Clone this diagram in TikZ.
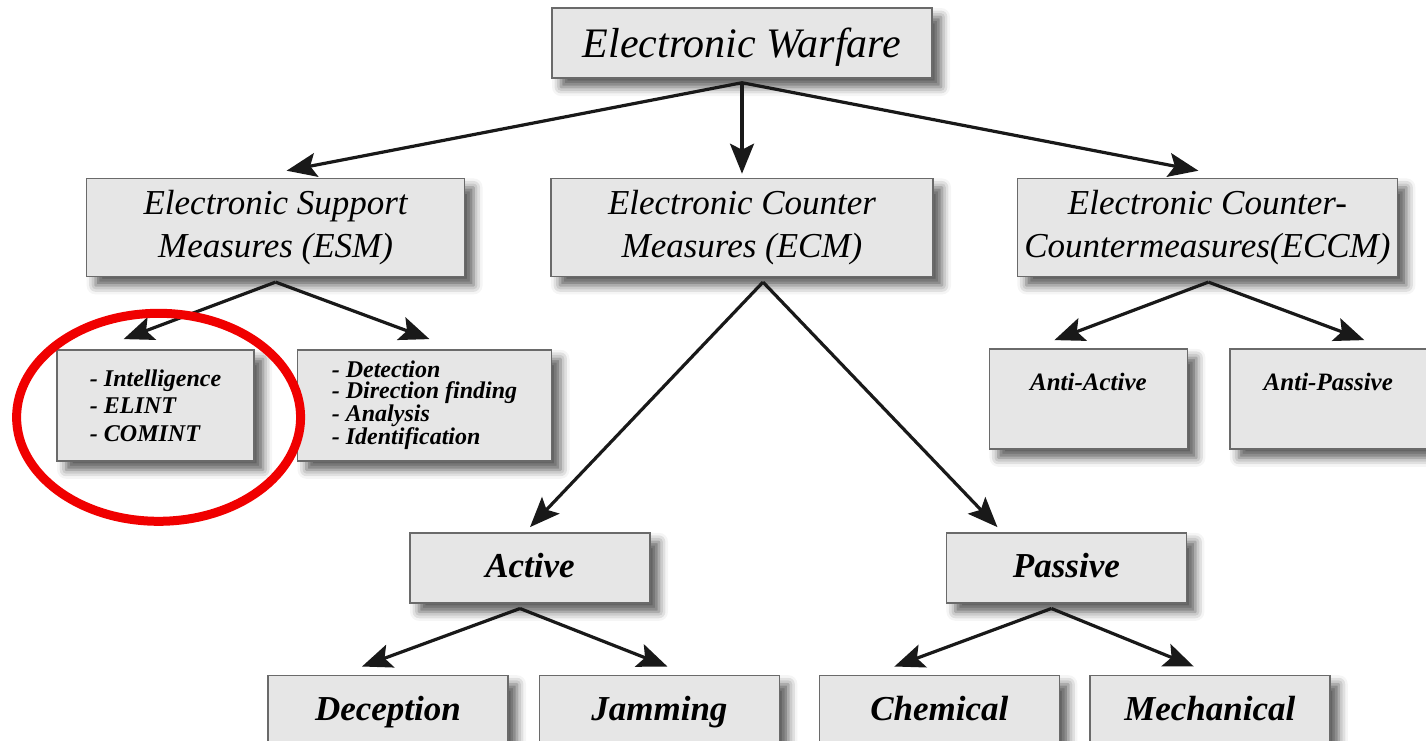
\documentclass[tikz,border=0pt]{standalone}
\usepackage{fontspec}
\setmainfont{Liberation Serif}
\usepackage{xcolor}
\usepackage{tikz}
\usetikzlibrary{arrows.meta, positioning, shadows.blur}

\definecolor{boxfill}{HTML}{E6E6E6}
\definecolor{boxline}{HTML}{6A6A6A}
\definecolor{ringred}{HTML}{F00000}

\begin{document}
\begin{tikzpicture}[
    x=1pt, y=1pt,
    branch/.style={draw=boxline, line width=1.4pt, fill=boxfill, inner sep=0pt, align=center,
        blur shadow={shadow xshift=9pt, shadow yshift=-9pt, shadow blur radius=9pt, shadow opacity=65},
        font=\fontsize{35}{43}\selectfont\itshape},
    leaf/.style={branch, minimum width=240pt, minimum height=70pt, text height=22pt, text depth=2pt,
        font=\fontsize{35}{40}\selectfont\bfseries\itshape},
    listbox/.style={branch, align=left, minimum height=111pt, font=\fontsize{24}{27.5}\selectfont\bfseries\itshape},
    counter/.style={branch, text height=42pt, text depth=58pt, font=\fontsize{25}{28}\selectfont\bfseries\itshape},
    link/.style={-{Stealth[length=30pt, width=24pt, inset=6pt]}, line width=3.2pt, black!90}
]
    \useasboundingbox (0,0) rectangle (1426,-740);

    \node[branch, minimum width=380pt, minimum height=70pt, text height=30pt, text depth=2pt,
        font=\fontsize{42}{48}\selectfont\itshape] (ew) at (742,-43) {Electronic Warfare};

    \node[branch, minimum width=378pt, minimum height=98pt, below left=99pt and 86pt of ew] (esm) {Electronic Support\\Measures (ESM)};
    \node[branch, minimum width=382pt, minimum height=98pt, below=99pt of ew] (ecm) {Electronic Counter\\Measures (ECM)};
    \node[branch, minimum width=380pt, minimum height=98pt, below right=99pt and 84pt of ew] (eccm) {Electronic Counter-\\Countermeasures(ECCM)};

    \node[listbox, minimum width=197pt, below=72pt of esm, xshift=-120pt] (intel) {- Intelligence\\- ELINT\\- COMINT};
    \node[listbox, minimum width=254pt, right=42pt of intel, font=\fontsize{24}{21.5}\selectfont\bfseries\itshape] (detect)
        {- Detection\\- Direction finding\\- Analysis\\- Identification};

    \node[counter, minimum width=198pt, below=71pt of eccm, xshift=-119pt] (antiact) {Anti-Active};
    \node[counter, minimum width=197pt, right=41pt of antiact] (antipas) {Anti-Passive};

    \node[leaf, below=255pt of ecm, xshift=-212pt] (active) {Active};
    \node[leaf, right=295pt of active] (passive) {Passive};

    \node[leaf, below=71pt of active, xshift=-142pt] (decep) {Deception};
    \node[leaf, right=30pt of decep] (jam) {Jamming};
    \node[leaf, below=71pt of passive, xshift=-127pt] (chem) {Chemical};
    \node[leaf, right=29pt of chem] (mech) {Mechanical};

    \draw[link] ([yshift=-4pt]ew.south) -- ([shift={(11,7)}]esm.north);
    \draw[link] ([yshift=-4pt]ew.south) -- ([yshift=4pt]ecm.north);
    \draw[link] ([yshift=-4pt]ew.south) -- ([shift={(-9,7)}]eccm.north);
    \draw[link] ([yshift=-5pt]esm.south) -- ([shift={(-32,10)}]intel.north);
    \draw[link] ([yshift=-5pt]esm.south) -- ([shift={(5,10)}]detect.north);
    \draw[link] ([shift={(21,-5)}]ecm.south) -- ([yshift=5pt]active.north);
    \draw[link] ([shift={(21,-5)}]ecm.south) -- ([shift={(-69,5)}]passive.north);
    \draw[link] ([shift={(1,-5)}]eccm.south) -- ([shift={(-34,8)}]antiact.north);
    \draw[link] ([shift={(1,-5)}]eccm.south) -- ([shift={(36,8)}]antipas.north);
    \draw[link] ([shift={(-10,-5)}]active.south) -- ([shift={(-26,8)}]decep.north);
    \draw[link] ([shift={(-10,-5)}]active.south) -- ([shift={(8,8)}]jam.north);
    \draw[link] ([shift={(-15,-5)}]passive.south) -- ([shift={(-45,8)}]chem.north);
    \draw[link] ([shift={(-15,-5)}]passive.south) -- ([shift={(-16,8)}]mech.north);

    \draw[ringred, line width=9pt] ([shift={(3,-12)}]intel.center) ellipse [x radius=142, y radius=104];
\end{tikzpicture}
\end{document}
